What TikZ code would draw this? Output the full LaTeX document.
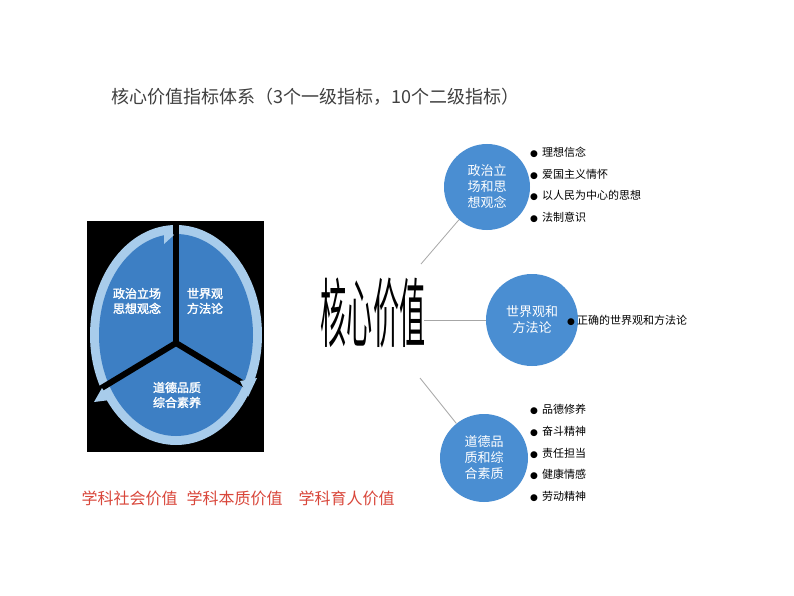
\documentclass[tikz,border=0pt]{standalone}
\usepackage{fontspec}
\setmainfont{Noto Sans CJK SC}
\newfontfamily\cjk{Noto Sans CJK SC}
\newfontfamily\cjkb[FakeBold=2]{Noto Sans CJK SC}
\newfontfamily\dvs{DejaVu Sans}
\newcommand{\mybul}{{\dvs\fontsize{9}{9}\selectfont●}}
\definecolor{cblue}{HTML}{4A8ED2}
\definecolor{lblue}{HTML}{A8CCEB}
\definecolor{pblue}{HTML}{3D7FC4}
\definecolor{redt}{HTML}{D9463A}
\begin{document}
\begin{tikzpicture}[x=1pt,y=-1pt,
  circ/.style={circle,fill=cblue,minimum size=#1,inner sep=0pt,text=white,font=\cjk\fontsize{13}{16}\selectfont,align=center},
  bul/.style={anchor=west,font=\cjk\fontsize{11}{13}\selectfont,inner sep=0pt},
  link/.style={draw=gray!70,line width=0.8pt},
  pie/.style={text=white,font=\cjkb\fontsize{12}{15}\selectfont,align=center}]
\useasboundingbox (0,0) rectangle (794,596);
\fill[white] (0,0) rectangle (794,596);
\node[anchor=west,text=black!75,font=\cjk\fontsize{18}{20}\selectfont] (title) at (108,97) {核心价值指标体系（3个一级指标，10个二级指标）};
% pie
\fill[black] (87,221) rectangle (264,452);
\fill[lblue] (176,335) ellipse [x radius=86, y radius=110];
\fill[pblue] (176,335) ellipse [x radius=77, y radius=101];
\draw[black,line width=6pt] (176,343) -- (176,222);
\draw[black,line width=6pt] (176,343) -- (90,395);
\draw[black,line width=6pt] (176,343) -- (262,395);
\fill[lblue] (164,226) -- (174,235) -- (164,244) -- cycle;
\fill[lblue] (240,381) -- (248,397) -- (257,378) -- cycle;
\fill[lblue] (110,400) -- (102,388) -- (94,402) -- cycle;
\node[pie] (p1) at (137,301) {政治立场\\思想观念};
\node[pie] (p2) at (205,301) {世界观\\方法论};
\node[pie] (p3) at (177,395) {道德品质\\综合素养};
\node[anchor=west,text=redt,font=\cjk\fontsize{16}{18}\selectfont] (val) at (78,498) {学科社会价值\hspace{9pt}学科本质价值\hspace{16pt}学科育人价值};
% mind map
\node[font=\cjk\fontsize{29}{30}\selectfont,xscale=0.9,yscale=2.6,inner sep=0pt] (core) at (373,313) {核心价值};
\node[circ=86pt] (c1) at (487,187) {政治立\\场和思\\想观念};
\node[circ=92pt] (c2) at (532,320) {世界观和\\方法论};
\node[circ=88pt] (c3) at (484,458) {道德品\\质和综\\合素质};
\coordinate (a1) at (421,264);
\coordinate (a2) at (424,320);
\coordinate (a3) at (420,378);
\draw[link] (a1) -- (c1);
\draw[link] (a2) -- (c2);
\draw[link] (a3) -- (c3);
\foreach \t [count=\i] in {理想信念,爱国主义情怀,以人民为中心的思想,法制意识}
  \node[bul] (b1\i) at (530,131+21.5*\i) {\mybul\hspace{4pt}\t};
\node[bul] (b21) at (567,320) {\mybul\hspace{2pt}正确的世界观和方法论};
\foreach \t [count=\i] in {品德修养,奋斗精神,责任担当,健康情感,劳动精神}
  \node[bul] (b3\i) at (530,388+21.7*\i) {\mybul\hspace{4pt}\t};
\end{tikzpicture}
\end{document}
